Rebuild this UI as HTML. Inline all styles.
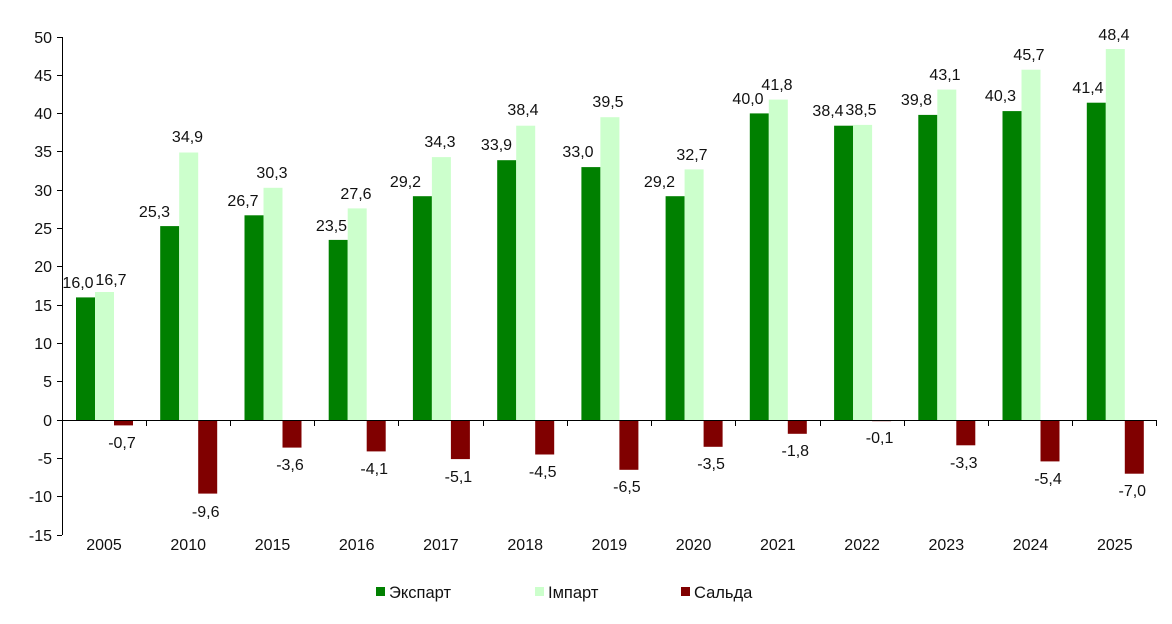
<!DOCTYPE html>
<html><head><meta charset="utf-8"><style>
html,body{margin:0;padding:0;background:#fff}
svg{display:block}
text{font-family:"Liberation Sans",Arial,sans-serif;fill:#111}
</style></head><body>
<svg width="1172" height="624" viewBox="0 0 1172 624" xmlns="http://www.w3.org/2000/svg">
<g stroke="#000" stroke-width="1" shape-rendering="crispEdges">
<line x1="62.5" y1="37" x2="62.5" y2="535"/>
<line x1="57" y1="37.5" x2="62" y2="37.5"/><line x1="57" y1="75.5" x2="62" y2="75.5"/><line x1="57" y1="113.5" x2="62" y2="113.5"/><line x1="57" y1="151.5" x2="62" y2="151.5"/><line x1="57" y1="190.5" x2="62" y2="190.5"/><line x1="57" y1="228.5" x2="62" y2="228.5"/><line x1="57" y1="266.5" x2="62" y2="266.5"/><line x1="57" y1="305.5" x2="62" y2="305.5"/><line x1="57" y1="343.5" x2="62" y2="343.5"/><line x1="57" y1="381.5" x2="62" y2="381.5"/><line x1="57" y1="420.5" x2="62" y2="420.5"/><line x1="57" y1="458.5" x2="62" y2="458.5"/><line x1="57" y1="496.5" x2="62" y2="496.5"/><line x1="57" y1="535.5" x2="62" y2="535.5"/>
</g>
<g font-size="16" text-anchor="end">
<text x="52" y="43">50</text><text x="52" y="81">45</text><text x="52" y="119">40</text><text x="52" y="157">35</text><text x="52" y="196">30</text><text x="52" y="234">25</text><text x="52" y="272">20</text><text x="52" y="311">15</text><text x="52" y="349">10</text><text x="52" y="387">5</text><text x="52" y="426">0</text><text x="52" y="464">-5</text><text x="52" y="502">-10</text><text x="52" y="541">-15</text>
</g>
<g fill="#008000">
<rect x="76" y="297.4" width="19" height="122.6"/><rect x="160.2" y="226.1" width="19" height="193.9"/><rect x="244.5" y="215.3" width="19" height="204.7"/><rect x="328.7" y="239.9" width="19" height="180.1"/><rect x="412.9" y="196.2" width="19" height="223.8"/><rect x="497.2" y="160.2" width="19" height="259.8"/><rect x="581.4" y="167.1" width="19" height="252.9"/><rect x="665.6" y="196.2" width="19" height="223.8"/><rect x="749.8" y="113.4" width="19" height="306.6"/><rect x="834.1" y="125.7" width="19" height="294.3"/><rect x="918.3" y="114.9" width="19" height="305.1"/><rect x="1002.5" y="111.1" width="19" height="308.9"/><rect x="1086.8" y="102.7" width="19" height="317.3"/>
</g>
<g fill="#ccffcc">
<rect x="95" y="292" width="19" height="128"/><rect x="179.2" y="152.5" width="19" height="267.5"/><rect x="263.5" y="187.8" width="19" height="232.2"/><rect x="347.7" y="208.4" width="19" height="211.6"/><rect x="431.9" y="157.1" width="19" height="262.9"/><rect x="516.2" y="125.7" width="19" height="294.3"/><rect x="600.4" y="117.2" width="19" height="302.8"/><rect x="684.6" y="169.4" width="19" height="250.6"/><rect x="768.8" y="99.6" width="19" height="320.4"/><rect x="853.1" y="124.9" width="19" height="295.1"/><rect x="937.3" y="89.6" width="19" height="330.4"/><rect x="1021.5" y="69.7" width="19" height="350.3"/><rect x="1105.8" y="49" width="19" height="371"/>
</g>
<g fill="#800000">
<rect x="114" y="420" width="19" height="5.4"/><rect x="198.2" y="420" width="19" height="73.6"/><rect x="282.5" y="420" width="19" height="27.6"/><rect x="366.7" y="420" width="19" height="31.4"/><rect x="450.9" y="420" width="19" height="39.1"/><rect x="535.2" y="420" width="19" height="34.5"/><rect x="619.4" y="420" width="19" height="49.8"/><rect x="703.6" y="420" width="19" height="26.8"/><rect x="787.8" y="420" width="19" height="13.8"/><rect x="872.1" y="420" width="19" height="1.2"/><rect x="956.3" y="420" width="19" height="25.3"/><rect x="1040.5" y="420" width="19" height="41.4"/><rect x="1124.8" y="420" width="19" height="53.7"/>
</g>
<g stroke="#000" stroke-width="1" shape-rendering="crispEdges">
<line x1="62" y1="420.5" x2="1157" y2="420.5"/>
<line x1="146.5" y1="420" x2="146.5" y2="426"/><line x1="230.5" y1="420" x2="230.5" y2="426"/><line x1="314.5" y1="420" x2="314.5" y2="426"/><line x1="398.5" y1="420" x2="398.5" y2="426"/><line x1="483.5" y1="420" x2="483.5" y2="426"/><line x1="567.5" y1="420" x2="567.5" y2="426"/><line x1="651.5" y1="420" x2="651.5" y2="426"/><line x1="735.5" y1="420" x2="735.5" y2="426"/><line x1="820.5" y1="420" x2="820.5" y2="426"/><line x1="904.5" y1="420" x2="904.5" y2="426"/><line x1="988.5" y1="420" x2="988.5" y2="426"/><line x1="1072.5" y1="420" x2="1072.5" y2="426"/><line x1="1156.5" y1="420" x2="1156.5" y2="426"/>
</g>
<g font-size="16" text-anchor="middle">
<text x="78" y="288">16,0</text><text x="154.5" y="217">25,3</text><text x="243" y="206">26,7</text><text x="331.5" y="231">23,5</text><text x="405.5" y="187">29,2</text><text x="496.5" y="150">33,9</text><text x="578" y="157">33,0</text><text x="659.5" y="187">29,2</text><text x="748" y="104">40,0</text><text x="828" y="116">38,4</text><text x="916.5" y="105">39,8</text><text x="1000.5" y="101">40,3</text><text x="1088" y="93">41,4</text>
<text x="111" y="285">16,7</text><text x="187.5" y="142">34,9</text><text x="272" y="178">30,3</text><text x="356" y="199">27,6</text><text x="440" y="147">34,3</text><text x="523" y="115">38,4</text><text x="608" y="107">39,5</text><text x="692" y="160">32,7</text><text x="777" y="90">41,8</text><text x="861" y="115">38,5</text><text x="945" y="80">43,1</text><text x="1029" y="60">45,7</text><text x="1114" y="40">48,4</text>
<text x="122" y="448">-0,7</text><text x="205.7" y="517">-9,6</text><text x="290" y="470">-3,6</text><text x="374.2" y="474">-4,1</text><text x="458.4" y="482">-5,1</text><text x="542.7" y="477">-4,5</text><text x="626.9" y="492">-6,5</text><text x="711.1" y="469">-3,5</text><text x="795.3" y="456">-1,8</text><text x="879.6" y="443">-0,1</text><text x="963.8" y="468">-3,3</text><text x="1048" y="484">-5,4</text><text x="1132.3" y="496">-7,0</text>
<text x="104" y="550">2005</text><text x="188.2" y="550">2010</text><text x="272.5" y="550">2015</text><text x="356.7" y="550">2016</text><text x="440.9" y="550">2017</text><text x="525.2" y="550">2018</text><text x="609.4" y="550">2019</text><text x="693.6" y="550">2020</text><text x="777.8" y="550">2021</text><text x="862.1" y="550">2022</text><text x="946.3" y="550">2023</text><text x="1030.5" y="550">2024</text><text x="1114.8" y="550">2025</text>
</g>
<rect x="376" y="587" width="9" height="9" fill="#008000"/><text x="389" y="598" font-size="16.5">Экспарт</text>
<rect x="535" y="587" width="9" height="9" fill="#ccffcc"/><text x="548" y="598" font-size="16.5">Імпарт</text>
<rect x="681" y="587" width="9" height="9" fill="#800000"/><text x="694" y="598" font-size="16.5">Сальда</text>
</svg>
</body></html>
